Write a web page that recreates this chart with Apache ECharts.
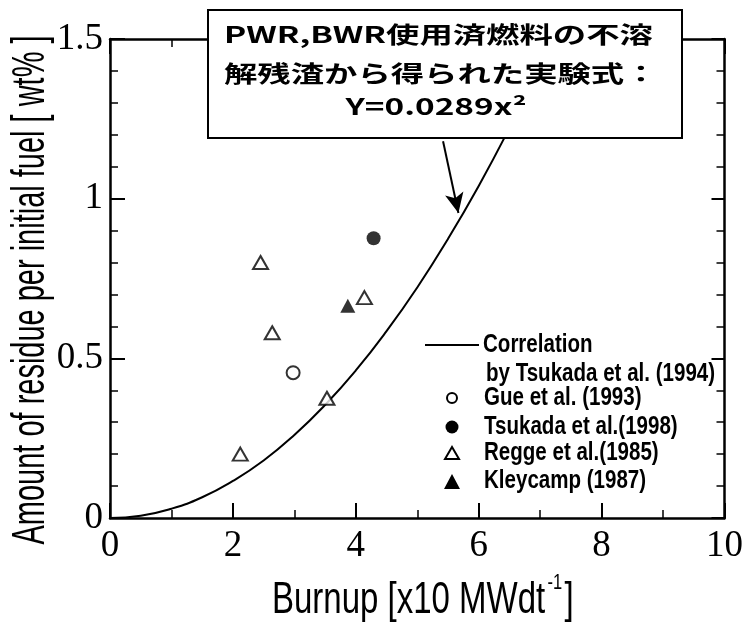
<!DOCTYPE html>
<html>
<head>
<meta charset="utf-8">
<script src="https://cdn.jsdelivr.net/npm/echarts@6/dist/echarts.min.js"></script>
<style>
  html, body { margin: 0; padding: 0; background: #fff; }
  #chart { width: 746px; height: 631px; }
</style>
</head>
<body>
<div id="chart"></div>
<script>
// Correlation curve (burnup vs. residue)
const curveX = [0, 0.5, 1, 1.5, 2, 2.5, 3, 3.5, 4, 4.5, 5, 5.5, 6, 6.5, 7, 7.2];
const curveY = [0, 0.007, 0.029, 0.065, 0.116, 0.18, 0.26, 0.354, 0.462, 0.585, 0.722, 0.874, 1.04, 1.221, 1.416, 1.5];

// Measured points [burnup, residue wt%]
const gueData = [[2.98, 0.455]];
const tsukada98Data = [[4.29, 0.876]];
const reggeData = [[2.12, 0.2], [2.45, 0.80], [2.64, 0.58], [3.53, 0.375], [4.14, 0.69]];
const kleycampData = [[3.87, 0.665]];

// Texts
const legendNames = ['Correlation', 'by Tsukada et al. (1994)', 'Gue et al. (1993)', 'Tsukada et al.(1998)', 'Regge et al.(1985)', 'Kleycamp (1987)'];
const boxLines = ['PWR,BWR使用済燃料の不溶', '解残渣から得られた実験式：', 'Y=0.0289x²'];
const xName = 'Burnup [x10 MWdt';
const xNameSup = '-1';
const xNameEnd = ']';
const yName = 'Amount of residue per initial fuel [ wt% ]';

// Arrow from the note box onto the curve (data coordinates)
const arrowFrom = [5.42, 1.18];
const arrowTo = [5.67, 0.955];

const black = '#000';
const sansFont = '"Liberation Sans", Arial, sans-serif';
const cjkFont = '"Noto Sans CJK JP"';
const legendX = 452;
const legendTextX = 484;

// measure the x title so the superscript sits right after it
const measureCtx = document.createElement('canvas').getContext('2d');
measureCtx.font = '44px ' + sansFont;
const xNameW = measureCtx.measureText(xName).width;
measureCtx.font = '22px ' + sansFont;
const xSupW = measureCtx.measureText(xNameSup).width;

const chart = echarts.init(document.getElementById('chart'), null, { renderer: 'canvas' });

const axisCommon = {
  axisLine: { show: true, onZero: false, lineStyle: { color: black, width: 2.5 } },
  axisTick: { show: true, inside: true, length: 15, lineStyle: { color: black, width: 2 } },
  minorTick: { show: true, length: 8, lineStyle: { color: black, width: 1.5 } },
  splitLine: { show: false }
};
const labelStyle = { color: black, fontFamily: '"Liberation Serif", serif', fontSize: 37 };

function boxText(text, x, y, align) {
  return {
    type: 'text', z: 101, x: x, y: y, scaleX: 1.45,
    style: { text: text, fontFamily: cjkFont, fontWeight: 'bold', fontSize: 23, fill: black, align: align, verticalAlign: 'middle' }
  };
}

const legendRows = [[legendTextX - 1, 345], [legendTextX + 2, 374], [legendTextX, 398], [legendTextX, 427], [legendTextX, 453], [legendTextX, 481]];

const option = {
  animation: false,
  backgroundColor: '#fff',
  grid: { left: 110, right: 19, top: 39, bottom: 113, containLabel: false },
  xAxis: [
    Object.assign({}, axisCommon, {
      type: 'value', min: 0, max: 10, interval: 2, position: 'bottom',
      minorTick: Object.assign({}, axisCommon.minorTick, { splitNumber: 2 }),
      axisLabel: Object.assign({}, labelStyle, { margin: 10 })
    }),
    Object.assign({}, axisCommon, {
      type: 'value', min: 0, max: 10, interval: 2, position: 'top',
      minorTick: Object.assign({}, axisCommon.minorTick, { splitNumber: 2 }),
      axisLabel: { show: false }
    })
  ],
  yAxis: [
    Object.assign({}, axisCommon, {
      type: 'value', min: 0, max: 1.5, interval: 0.5, position: 'left',
      minorTick: Object.assign({}, axisCommon.minorTick, { splitNumber: 5 }),
      axisLabel: Object.assign({}, labelStyle, { margin: 7 })
    }),
    Object.assign({}, axisCommon, {
      type: 'value', min: 0, max: 1.5, interval: 0.5, position: 'right',
      axisTick: Object.assign({}, axisCommon.axisTick, { length: 13 }),
      minorTick: Object.assign({}, axisCommon.minorTick, { splitNumber: 5 }),
      axisLabel: { show: false }
    })
  ],
  series: [
    {
      name: legendNames[0],
      type: 'line',
      smooth: true,
      symbol: 'none',
      data: curveX.map((x, i) => [x, curveY[i]]),
      lineStyle: { color: black, width: 2 },
      z: 3,
      markLine: {
        silent: true,
        symbol: ['none', 'arrow'],
        symbolSize: [14, 20],
        label: { show: false },
        lineStyle: { color: black, width: 2, type: 'solid' },
        data: [[{ coord: arrowFrom }, { coord: arrowTo }]]
      }
    },
    {
      name: legendNames[2], type: 'scatter', data: gueData,
      symbol: 'circle', symbolSize: 13,
      itemStyle: { color: '#fff', borderColor: black, borderWidth: 2 }, z: 4
    },
    {
      name: legendNames[3], type: 'scatter', data: tsukada98Data,
      symbol: 'circle', symbolSize: 14,
      itemStyle: { color: black }, z: 4
    },
    {
      name: legendNames[4], type: 'scatter', data: reggeData,
      symbol: 'triangle', symbolSize: [15, 13],
      itemStyle: { color: '#fff', borderColor: black, borderWidth: 2 }, z: 4
    },
    {
      name: legendNames[5], type: 'scatter', data: kleycampData,
      symbol: 'triangle', symbolSize: [15, 14],
      itemStyle: { color: black }, z: 4
    }
  ],
  graphic: [
    // note box with the correlation formula
    { type: 'rect', z: 100, shape: { x: 208, y: 10, width: 474, height: 128 },
      style: { fill: '#fff', stroke: black, lineWidth: 2 } },
    boxText(boxLines[0], 224, 34, 'left'),
    boxText(boxLines[1], 224, 73, 'left'),
    boxText(boxLines[2], 436, 106, 'center'),

    // legend
    { type: 'line', z: 50, shape: { x1: 425, y1: 345, x2: 479, y2: 345 }, style: { stroke: black, lineWidth: 2 } },
    { type: 'circle', z: 50, shape: { cx: legendX, cy: 398, r: 5 }, style: { fill: '#fff', stroke: black, lineWidth: 2 } },
    { type: 'circle', z: 50, shape: { cx: legendX, cy: 427, r: 6.5 }, style: { fill: black } },
    { type: 'polygon', z: 50, shape: { points: [[legendX, 447], [legendX - 7, 459], [legendX + 7, 459]] }, style: { fill: '#fff', stroke: black, lineWidth: 2 } },
    { type: 'polygon', z: 50, shape: { points: [[legendX, 474], [legendX - 8, 489], [legendX + 8, 489]] }, style: { fill: black } }
  ].concat(
    legendRows.map((p, i) => ({
      type: 'text', z: 50, x: p[0], y: p[1], scaleX: 0.79,
      style: { text: legendNames[i], fontFamily: sansFont, fontWeight: 'bold', fontSize: 26, fill: black, align: 'left', verticalAlign: 'middle' }
    }))
  ).concat([
    // axis titles
    {
      type: 'group', z: 50, x: 272, y: 601, scaleX: 0.75,
      children: [
        { type: 'text', x: 0, y: 0,
          style: { text: xName, fontFamily: sansFont, fontSize: 44, fill: black, align: 'left', verticalAlign: 'middle' } },
        { type: 'text', x: xNameW + 3, y: -18,
          style: { text: xNameSup, fontFamily: sansFont, fontSize: 22, fill: black, align: 'left', verticalAlign: 'middle' } },
        { type: 'text', x: xNameW + xSupW + 6, y: 0,
          style: { text: xNameEnd, fontFamily: sansFont, fontSize: 44, fill: black, align: 'left', verticalAlign: 'middle' } }
      ]
    },
    { type: 'text', z: 50, x: 31, y: 290, rotation: Math.PI / 2, scaleX: 0.63,
      style: { text: yName, fontFamily: sansFont, fontSize: 46, fill: black, align: 'center', verticalAlign: 'middle' } }
  ])
};

chart.setOption(option);
</script>
</body>
</html>
